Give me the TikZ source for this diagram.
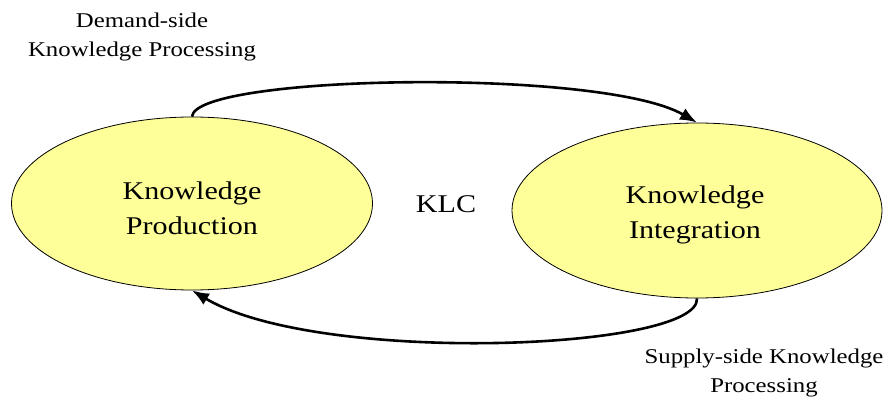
\documentclass[tikz,border=0pt]{standalone}
\usepackage{fontspec}
\usetikzlibrary{shapes.geometric,arrows.meta}
\newfontfamily\klcserif{Liberation Serif}[FakeStretch=1.18]
\definecolor{bubble}{HTML}{FFFF99}
\begin{document}
\begin{tikzpicture}[x=1pt,y=-1pt,
  phase/.style={ellipse,draw=black,line width=0.8pt,fill=bubble,inner sep=0pt},
  biglabel/.style={align=center,inner sep=0pt,font=\klcserif\fontsize{25.5}{35}\selectfont},
  smalllabel/.style={align=center,inner sep=0pt,font=\klcserif\fontsize{21}{29}\selectfont},
  flow/.style={line width=2.6pt,-{Latex[length=17pt,width=13pt]}}]
\useasboundingbox (0,0) rectangle (890,403);
% the two phases of the cycle
\node[phase,minimum width=361pt,minimum height=173pt] (prod) at (192,203.5) {};
\node[biglabel] (prodtext) at (192,208.5) {Knowledge\\Production};
\node[phase,minimum width=370pt,minimum height=175pt] (integ) at (697,210.5) {};
\node[biglabel] (integtext) at (695,214.5) {Knowledge\\Integration};
\node[biglabel] (klc) at (446,204) {KLC};
% flow labels
\node[smalllabel] (demand) at (142,37) {Demand-side\\Knowledge Processing};
\node[smalllabel] (supply) at (764,373) {Supply-side Knowledge\\Processing};
% the two flows
\draw[flow] (prod.north) .. controls +(3,-42) and +(-95,-55) .. (integ.north);
\draw[flow] (integ.south) .. controls +(3,52) and +(126,75) .. (prod.south);
\end{tikzpicture}
\end{document}
